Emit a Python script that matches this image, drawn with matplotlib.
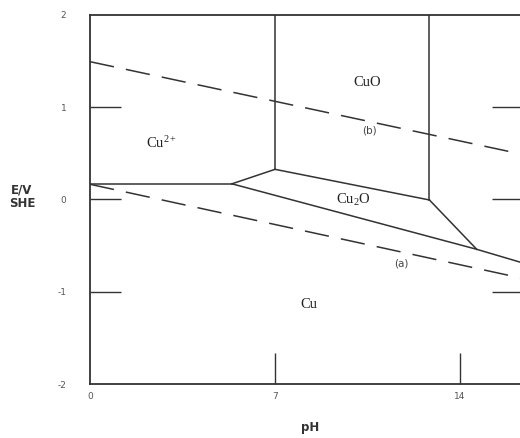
import matplotlib
matplotlib.use('Agg')
import matplotlib.pyplot as plt

plt.rcParams['mathtext.fontset'] = 'custom'
plt.rcParams['mathtext.rm'] = 'Liberation Serif'
plt.rcParams['mathtext.it'] = 'Liberation Serif:italic'

# Pourbaix diagram for copper (E vs pH)
ph_max = 16.38

# solid phase boundaries (pH, E)
cu2_cu_ph = [0, 5.37]
cu2_cu_e = [0.17, 0.17]
cu2_cu2o_ph = [5.37, 7.0]
cu2_cu2o_e = [0.17, 0.327]
cu2_cuo_ph = [7.0, 7.0]
cu2_cuo_e = [0.327, 2.0]
cuo_cu2o_ph = [7.0, 12.84]
cuo_cu2o_e = [0.327, -0.005]
cuo_right_ph = [12.84, 12.84]
cuo_right_e = [-0.005, 2.0]
cu2o_right_ph = [12.84, 14.63]
cu2o_right_e = [-0.005, -0.54]
cu2o_cu_ph = [5.37, 14.63, 16.4]
cu2o_cu_e = [0.17, -0.54, -0.69]

# water stability lines
line_a_ph = [0, 16.4]
line_a_e = [0.165, -0.857]
line_b_ph = [0, 16.4]
line_b_e = [1.494, 0.487]

species = ['Cu$^{2+}$', 'CuO', 'Cu$_2$O', 'Cu']
species_ph = [2.72, 10.48, 9.95, 8.29]
species_e = [0.61, 1.27, -0.005, -1.14]

line_labels = ['(a)', '(b)']
line_label_ph = [11.77, 10.56]
line_label_e = [-0.69, 0.75]

x_labels = [0, 7, 14]
x_marks = [7, 14]
y_labels = [2, 1, 0, -1, -2]
y_marks = [1, 0, -1]

col = '#333333'
fig = plt.figure(figsize=(5.2, 4.38), dpi=100)
ax = fig.add_axes([90 / 520, 1 - 384 / 438, 433 / 520, 369 / 438])

solid = [(cu2_cu_ph, cu2_cu_e), (cu2_cu2o_ph, cu2_cu2o_e), (cu2_cuo_ph, cu2_cuo_e),
         (cuo_cu2o_ph, cuo_cu2o_e), (cuo_right_ph, cuo_right_e),
         (cu2o_right_ph, cu2o_right_e), (cu2o_cu_ph, cu2o_cu_e)]
for xs, ys in solid:
    ax.plot(xs, ys, color=col, lw=1.1)

for xs, ys in [(line_a_ph, line_a_e), (line_b_ph, line_b_e)]:
    ax.plot(xs, ys, color=col, lw=1.1, dashes=(16, 8))

for s, x, y in zip(species, species_ph, species_e):
    ax.text(x, y, s, ha='center', va='center', fontsize=10.5,
            family='Liberation Serif', color='#222222')
for s, x, y in zip(line_labels, line_label_ph, line_label_e):
    ax.text(x, y, s, ha='center', va='center', fontsize=7.5, color='#444444')

ax.set_xlim(0, ph_max)
ax.set_ylim(-2, 2)
# major ticks carry the labels only, minor ticks are the long inner marks
ax.xaxis.remove_overlapping_locs = False
ax.yaxis.remove_overlapping_locs = False
ax.set_xticks(x_labels)
ax.set_yticks(y_labels)
ax.set_yticklabels([str(v) for v in y_labels])
ax.set_xticks(x_marks, minor=True)
ax.set_yticks(y_marks, minor=True)

for sp in ax.spines.values():
    sp.set_linewidth(1.3)
    sp.set_color(col)

ax.tick_params(axis='y', which='major', length=0, labelsize=6.5,
               labelcolor='#555555', pad=17)
ax.tick_params(axis='x', which='major', length=0, labelsize=6.5,
               labelcolor='#555555', pad=6)
ax.tick_params(axis='y', which='minor', direction='in', length=22, width=1.0,
               color=col, left=True, right=True)
ax.tick_params(axis='x', which='minor', direction='in', length=22, width=1.0,
               color=col, bottom=True, top=False)

fig.text(22 / 520, 1 - 197 / 438, 'E/V\nSHE', ha='center', va='center',
         fontsize=8.5, fontweight='bold', color='#333333', linespacing=1.1)
fig.text(310 / 520, 1 - 427 / 438, 'pH', ha='center', va='center',
         fontsize=8.5, fontweight='bold', color='#333333')

plt.savefig('out.png', dpi=100)
plt.close()
